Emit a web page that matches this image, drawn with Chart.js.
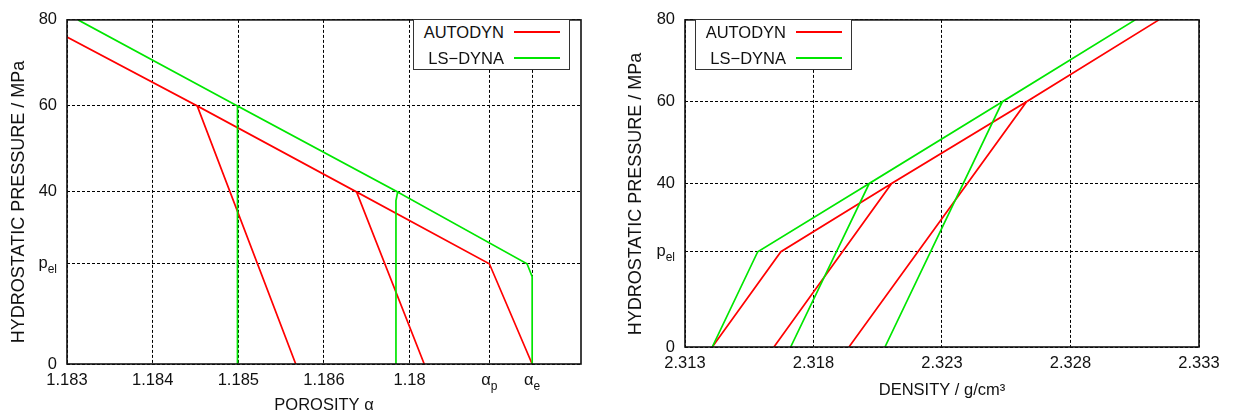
<!DOCTYPE html>
<html>
<head>
<meta charset="utf-8">
<script src="https://cdn.jsdelivr.net/npm/chart.js@4.4.1/dist/chart.umd.min.js"></script>
<style>
  html, body { margin: 0; padding: 0; background: #fff; }
  #wrap { position: relative; width: 1233px; height: 419px; overflow: hidden;
          font-family: 'Liberation Sans', Arial, Helvetica, sans-serif; }
  canvas { position: absolute; top: 0; }
  #c-por { left: 0; }
  #c-den { left: 610px; }
  .leg { position: absolute; top: 19px; width: 157px; height: 51px; box-sizing: border-box;
         border: 1px solid #333; background: #fff; }
  .leg-row { position: absolute; left: 0; width: 155px; height: 26px; }
  .leg-txt { position: absolute; right: 65px; top: 0; line-height: 26px; font-size: 16.5px; color: #111; white-space: nowrap; }
  .leg-ln  { position: absolute; left: 100px; top: 12px; width: 46px; height: 2px; }
</style>
</head>
<body>
<div id="wrap">
  <canvas id="c-por" width="610" height="419"></canvas>
  <canvas id="c-den" width="623" height="419"></canvas>
  <div class="leg" id="leg-por" style="left:413px"></div>
  <div class="leg" id="leg-den" style="left:695px"></div>
</div>
<script>
const INK   = '#111';
const GRID  = '#000';
const FONT  = "'Liberation Sans', Arial, Helvetica, sans-serif";
const RED   = '#ff0000';
const GREEN = '#00e600';

const SERIES = ['AUTODYN', 'LS\u2212DYNA'];
const COLORS = [RED, GREEN];

// pressure axis, shared by both panels
const P_EL = 23.3;
const PRESS_TICKS  = [0, P_EL, 40, 60, 80];
const PRESS_LABELS = ['0', ['p', 'el'], '40', '60', '80'];

// porosity panel
const ALPHA_P = 1.18793;
const ALPHA_E = 1.18843;
const POR_TICKS  = [1.183, 1.184, 1.185, 1.186, 1.187, ALPHA_P, ALPHA_E];
const POR_LABELS = ['1.183', '1.184', '1.185', '1.186', '1.18', ['α', 'p'], ['α', 'e']];

const AUTODYN_ALPHA   = [ALPHA_E, ALPHA_P, 1.18638, 1.18717, 1.18638, 1.18452, 1.18567, 1.18452, 1.183];
const AUTODYN_ALPHA_P = [0, P_EL, 40, 0, 40, 60, 0, 60, 76];
const LSDYNA_ALPHA    = [ALPHA_E, ALPHA_E, 1.18837, 1.18686, 1.18684, 1.18684, 1.18684, 1.18686, 1.18499, 1.18499, 1.18499, 1.18313];
const LSDYNA_ALPHA_P  = [0, 20.3, P_EL, 40, 38, 0, 38, 40, 60, 0, 60, 80];

// density panel
const DEN_TICKS  = [2.313, 2.318, 2.323, 2.328, 2.333];
const DEN_LABELS = ['2.313', '2.318', '2.323', '2.328', '2.333'];

const AUTODYN_RHO   = [2.31406, 2.31673, 2.32104, 2.31646, 2.32104, 2.32629, 2.31938, 2.32629, 2.33144];
const AUTODYN_RHO_P = [0, P_EL, 40, 0, 40, 60, 0, 60, 80];
const LSDYNA_RHO    = [2.31406, 2.31583, 2.32017, 2.31711, 2.32017, 2.32535, 2.32078, 2.32535, 2.33052];
const LSDYNA_RHO_P  = [0, P_EL, 40, 0, 40, 60, 0, 60, 80];

Chart.defaults.font.family = FONT;
Chart.defaults.font.size = 16.5;
Chart.defaults.color = INK;

const pts = (xs, ys) => xs.map((x, i) => ({ x, y: ys[i] }));
const plain = lab => Array.isArray(lab) ? '' : lab;

// label with a subscript, e.g. p_el; returns its width
function subText(ctx, [main, sub], x, y, measureOnly) {
  ctx.font = '16.5px ' + FONT;
  const w1 = ctx.measureText(main).width;
  ctx.font = '12px ' + FONT;
  const w2 = ctx.measureText(sub).width;
  if (!measureOnly) {
    ctx.font = '16.5px ' + FONT;
    ctx.fillText(main, x, y);
    ctx.font = '12px ' + FONT;
    ctx.fillText(sub, x + w1, y + 5.5);
  }
  return w1 + w2;
}

// frame, subscripted tick labels and the rotated y title
function axisText(p) {
  return {
    id: 'axisText',
    afterDraw(chart) {
      const { ctx, chartArea: a, scales: { x, y } } = chart;
      ctx.save();
      ctx.strokeStyle = INK;
      ctx.lineWidth = 1.6;
      ctx.strokeRect(a.left, a.top, a.right - a.left, a.bottom - a.top);

      ctx.fillStyle = INK;
      ctx.textBaseline = 'middle';
      ctx.textAlign = 'left';
      p.xlabels.forEach((lab, i) => {
        if (!Array.isArray(lab)) return;
        const w = subText(ctx, lab, 0, 0, true);
        subText(ctx, lab, x.getPixelForValue(p.xticks[i]) - w / 2, a.bottom + 7 + 9.9);
      });
      p.ylabels.forEach((lab, i) => {
        if (!Array.isArray(lab)) return;
        const w = subText(ctx, lab, 0, 0, true);
        subText(ctx, lab, a.left - 10 - w, y.getPixelForValue(p.yticks[i]));
      });

      ctx.translate(p.titleX, p.titleY);
      ctx.rotate(-Math.PI / 2);
      ctx.textAlign = 'center';
      ctx.font = '18px ' + FONT;
      ctx.fillText(p.ytitle, 0, 0);
      ctx.restore();
    },
  };
}

function panel(id, c) {
  return new Chart(document.getElementById(id), {
    type: 'scatter',
    data: {
      datasets: [
        { label: SERIES[0], data: pts(c.red[0], c.red[1]),     borderColor: RED,   showLine: true, order: 1 },
        { label: SERIES[1], data: pts(c.green[0], c.green[1]), borderColor: GREEN, showLine: true, order: 0 },
      ],
    },
    options: {
      responsive: false, animation: false, events: [],
      layout: { padding: c.pad },
      elements: { point: { radius: 0 }, line: { borderWidth: 1.7, tension: 0, fill: false } },
      plugins: { legend: { display: false }, tooltip: { enabled: false } },
      scales: {
        x: {
          type: 'linear', min: c.xmin, max: c.xmax,
          afterBuildTicks: s => { s.ticks = c.xticks.map(value => ({ value })); },
          afterFit: s => { s.height = c.xh; },
          ticks: { autoSkip: false, maxRotation: 0, padding: 7, color: INK,
                   callback: (v, i) => plain(c.xlabels[i]) },
          grid: { color: GRID, lineWidth: 1, drawTicks: false },
          border: { display: false, dash: [3, 2] },
          title: { display: true, text: c.xtitle, color: INK, font: { size: 16.5 },
                   padding: { top: 0, bottom: c.xtb } },
        },
        y: {
          type: 'linear', min: 0, max: 80,
          afterBuildTicks: s => { s.ticks = PRESS_TICKS.map(value => ({ value })); },
          afterFit: s => { s.width = c.yw; },
          ticks: { autoSkip: false, padding: 10, color: INK,
                   callback: (v, i) => plain(PRESS_LABELS[i]) },
          grid: { color: GRID, lineWidth: 1, drawTicks: false },
          border: { display: false, dash: [3, 2] },
        },
      },
    },
    plugins: [axisText({
      xticks: c.xticks, xlabels: c.xlabels, yticks: PRESS_TICKS, ylabels: PRESS_LABELS,
      ytitle: 'HYDROSTATIC PRESSURE / MPa', titleX: c.titleX, titleY: c.titleY,
    })],
  });
}

panel('c-por', {
  red: [AUTODYN_ALPHA, AUTODYN_ALPHA_P], green: [LSDYNA_ALPHA, LSDYNA_ALPHA_P],
  xmin: 1.183, xmax: 1.189, xticks: POR_TICKS, xlabels: POR_LABELS,
  xtitle: 'POROSITY α',
  pad: { top: 14, right: 29, bottom: 0, left: 0 }, yw: 67, xh: 55, xtb: 4,
  titleX: 19, titleY: 202,
});

panel('c-den', {
  red: [AUTODYN_RHO, AUTODYN_RHO_P], green: [LSDYNA_RHO, LSDYNA_RHO_P],
  xmin: 2.313, xmax: 2.333, xticks: DEN_TICKS, xlabels: DEN_LABELS,
  xtitle: 'DENSITY / g/cm³',
  pad: { top: 14, right: 34, bottom: 0, left: 0 }, yw: 75, xh: 72, xtb: 19,
  titleX: 26, titleY: 194,
});

// legends: name, then a short line sample
['leg-por', 'leg-den'].forEach(id => {
  document.getElementById(id).innerHTML = SERIES.map((s, i) => `
    <div class="leg-row" style="top:${-1 + 26 * i}px">
      <span class="leg-txt">${s}</span>
      <div class="leg-ln" style="background:${COLORS[i]}"></div>
    </div>`).join('');
});
</script>
</body>
</html>
